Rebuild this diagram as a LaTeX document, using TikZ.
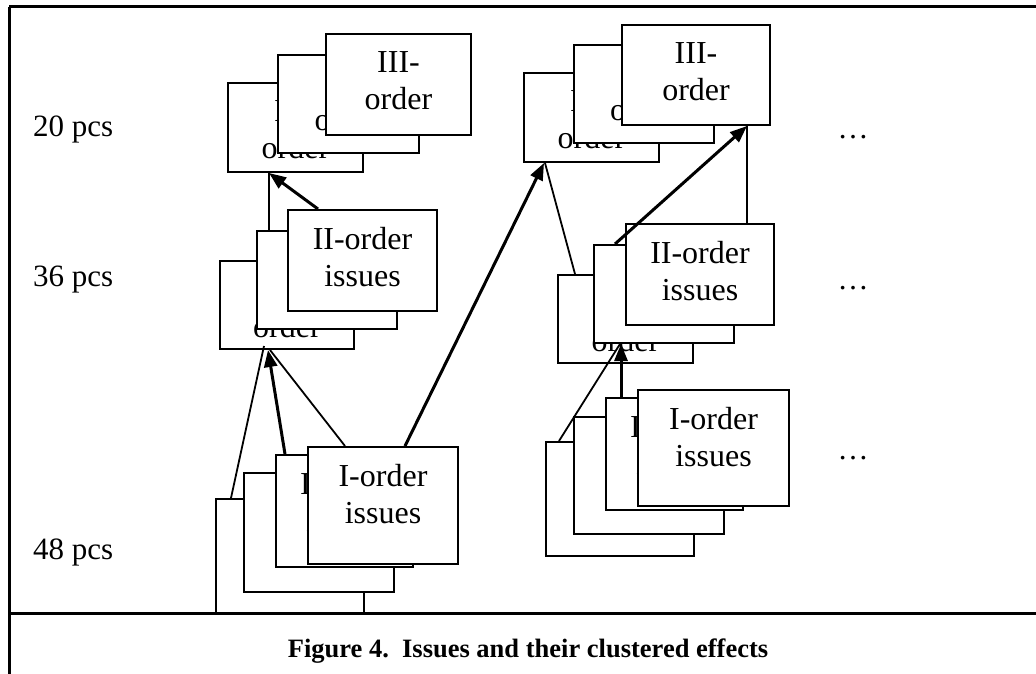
\documentclass[tikz,border=0pt]{standalone}
\usepackage{fontspec}
\setmainfont{Liberation Serif}
\usetikzlibrary{arrows.meta,calc}
\tikzset{
  issuebox/.style={draw, fill=white, line width=2pt, inner sep=0pt, anchor=north west},
  boxtext/.style={anchor=base, inner sep=0pt, font=\fontsize{32}{38}\selectfont},
  thinline/.style={line width=1.8pt},
  thickarrow/.style={line width=3pt, -{Triangle[length=17pt,width=13pt]}},
  framerule/.style={line width=3pt},
  lbl/.style={anchor=base west, inner sep=0pt, font=\fontsize{31}{37}\selectfont},
  dotslbl/.style={anchor=base, inner sep=0pt, font=\fontsize{31}{37}\selectfont},
  caption/.style={anchor=base, inner sep=0pt, font=\fontsize{26.5}{32}\selectfont\bfseries},
}
% name, x1, y1, x2, y2, first line, second line
\newcommand\drawissuebox[7]{%
  \node[issuebox, minimum width=#4pt-#2pt, minimum height=#5pt-#3pt] (#1) at (#2,#3) {};
  \node[boxtext] (#1-a) at ($(#1.north)+(0,40)$) {#6};
  \node[boxtext] (#1-b) at ($(#1.north)+(0,77)$) {#7};
}
\begin{document}
\begin{tikzpicture}[x=1pt, y=-1pt]
\useasboundingbox (0,0) rectangle (1036,674);
% frame
\draw[framerule] (9,7) -- (1036,7);
\draw[framerule] (9,7) -- (9,674);
\draw[framerule] (9,613) -- (1036,613);

% row labels
\node[lbl] (p20) at (33,137) {20 pcs};
\node[lbl] (p36) at (33,286) {36 pcs};
\node[lbl] (p48) at (33,559) {48 pcs};

% left column
\drawissuebox{L3a}{227}{82}{362}{171}{III-}{order}
\drawissuebox{L3b}{277}{54}{418}{152}{III-}{order}
\drawissuebox{L3c}{325}{33}{470}{134}{III-}{order}

\drawissuebox{L2a}{219}{260}{353}{348}{II-}{order}
\drawissuebox{L2b}{256}{230}{396}{328}{II-}{order}
\drawissuebox{L2c}{287}{209}{436}{310}{II-order}{issues}

\drawissuebox{L1a}{215}{498}{363}{612}{I-order}{issues}
\drawissuebox{L1b}{243}{472}{393}{591}{I-order}{issues}
\drawissuebox{L1c}{275}{454}{412}{566}{I-order}{issues}
\drawissuebox{L1d}{307}{446}{457}{563}{I-order}{issues}

% right column
\drawissuebox{R3a}{523}{72}{658}{161}{III-}{order}
\drawissuebox{R3b}{573}{44}{713}{142}{III-}{order}
\drawissuebox{R3c}{621}{24}{769}{124}{III-}{order}

\drawissuebox{R2a}{557}{274}{692}{362}{II-}{order}
\drawissuebox{R2b}{593}{244}{733}{342}{II-}{order}
\drawissuebox{R2c}{625}{223}{773}{324}{II-order}{issues}

\drawissuebox{R1a}{545}{441}{693}{555}{I-order}{issues}
\drawissuebox{R1b}{573}{416}{723}{533}{I-order}{issues}
\drawissuebox{R1c}{605}{397}{742}{509}{I-order}{issues}
\drawissuebox{R1d}{637}{389}{788}{505}{I-order}{issues}

% ellipses
\node[dotslbl] (d1) at (853,139) {\dots};
\node[dotslbl] (d2) at (853,289) {\dots};
\node[dotslbl] (d3) at (853,459) {\dots};

% connectors, left column
\draw[thinline] ($(L2b.north west)+(13,0)$) -- ($(L3a.south west)+(42,0)$);
\draw[thickarrow] ($(L2c.north west)+(31,0)$) -- ($(L3a.south west)+(42,0)$);
\draw[thinline] ($(L1a.north west)+(16,0)$) -- ($(L2a.south west)+(45,-4)$);
\draw[thickarrow] ($(L1c.north west)+(10,0)$) -- ($(L2a.south west)+(49,0)$);
\draw[thinline] ($(L1d.north west)+(38,0)$) -- ($(L2a.south west)+(51,0)$);
\draw[thickarrow] ($(L1d.north west)+(98,0)$) -- ($(R3a.south west)+(21,0)$);

% connectors, right column
\draw[thinline] ($(R2a.north west)+(18,0)$) -- ($(R3a.south west)+(22,0)$);
\draw[thickarrow] ($(R2b.north west)+(22,0)$) -- ($(R3c.south west)+(126,0)$);
\draw[thinline] ($(R2c.north west)+(122,0)$) -- ($(R3c.south west)+(126,0)$);
\draw[thinline] ($(R1a.north west)+(14,0)$) -- ($(R2b.south west)+(27,0)$);
\draw[thickarrow] ($(R1c.north west)+(16,0)$) -- ($(R2b.south west)+(28,0)$);

% caption
\node[caption] (cap) at (528,657) {Figure 4.\ \ Issues and their clustered effects};
\end{tikzpicture}
\end{document}
